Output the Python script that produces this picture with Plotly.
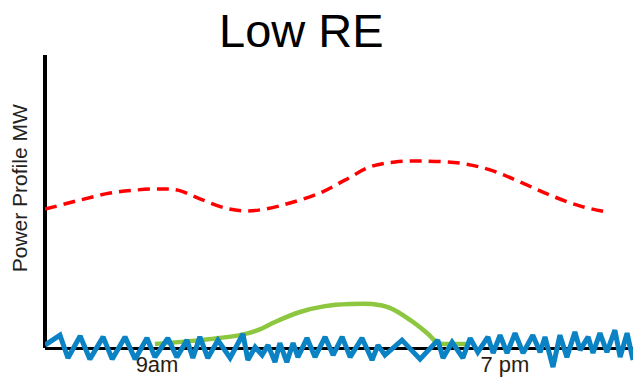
import plotly.graph_objects as go

# Time of day (hours) and power profile values (MW, schematic units)
demand_hours = [5.78, 6.79, 7.65, 8.37, 9.08, 9.60, 10.23, 10.95, 11.53, 12.10, 12.82,
                13.68, 14.40, 15.12, 15.84, 16.70, 17.71, 18.57, 19.43, 20.29, 21.15, 21.93]
demand_mw = [47.4, 50.5, 52.9, 53.9, 54.3, 53.9, 50.9, 47.8, 46.8, 47.4, 49.5,
             52.9, 57.3, 61.8, 63.5, 63.8, 63.1, 60.8, 56.7, 52.2, 48.5, 46.4]

solar_hours = [8.94, 10.23, 11.38, 11.90, 12.39, 13.11, 13.83, 14.54, 15.18, 15.69,
               16.27, 16.79, 17.07, 17.42, 17.93]
solar_mw = [1.4, 2.7, 4.4, 6.1, 8.9, 12.3, 14.3, 15.0, 15.0, 13.7,
            9.6, 4.8, 1.7, 1.4, 1.4]

wind_hours = [5.78, 6.21, 6.44, 6.79, 7.07, 7.45, 7.71, 8.08, 8.37, 8.71, 8.94, 9.31,
              9.57, 9.86, 10.03, 10.23, 10.46, 10.75, 11.10, 11.47, 11.61, 11.82, 12.02,
              12.19, 12.39, 12.53, 12.73, 12.91, 13.05, 13.31, 13.54, 13.83, 14.06, 14.32,
              14.55, 14.89, 15.18, 15.35, 15.55, 16.04, 16.56, 17.07, 17.22, 17.48, 17.79,
              18.00, 18.22, 18.51, 18.66, 18.86, 19.06, 19.29, 19.52, 19.80, 20.01, 20.15,
              20.38, 20.58, 20.78, 21.01, 21.16, 21.39, 21.53, 21.73, 21.93, 22.16, 22.31,
              22.51, 22.68]
wind_mw = [1.0, 4.4, -3.4, 4.1, -3.8, 3.8, -3.8, 3.8, -3.8, 3.4, -3.1, 3.4,
           -3.1, 2.7, -3.4, 3.8, -3.4, 2.7, -3.4, 4.8, -4.1, 0.3, -2.4,
           1.0, -4.8, 1.7, -4.8, 1.7, -3.1, 3.4, -3.1, 3.8, -2.4, 3.8,
           -3.1, 3.4, -4.1, 1.0, -2.4, 2.7, -3.8, 2.7, -3.4, 2.0, -3.4,
           3.4, -1.4, 3.8, -1.7, 4.4, -1.7, 5.1, -1.7, 4.4, -1.4, 3.8,
           -6.5, 4.4, -3.1, 5.5, -0.7, 3.8, -1.7, 5.1, -1.4, 6.1, -3.1,
           5.1, -4.1]

tick_hours = [9, 19]
tick_labels = ["9am", "7 pm"]

fig = go.Figure()
fig.add_trace(go.Scatter(x=demand_hours, y=demand_mw, mode="lines",
                         line=dict(color="#ff0000", width=3.5, dash="12px,7px", shape="spline"),
                         showlegend=False, hoverinfo="skip"))
fig.add_trace(go.Scatter(x=solar_hours, y=solar_mw, mode="lines",
                         line=dict(color="#8dc63f", width=4.5, shape="spline"),
                         showlegend=False, hoverinfo="skip"))
fig.add_trace(go.Scatter(x=wind_hours, y=wind_mw, mode="lines",
                         line=dict(color="#0a82c4", width=5),
                         showlegend=False, hoverinfo="skip"))

fig.add_shape(type="line", xref="paper", yref="y", x0=0, x1=0, y0=0, y1=100,
              line=dict(color="black", width=4), layer="below")

fig.add_annotation(text="Power Profile MW", textangle=-90, xref="paper", yref="paper",
                   x=-0.044, y=0.584, xanchor="center", yanchor="middle", showarrow=False,
                   font=dict(family="Liberation Sans, Arial", size=21, color="#222222"))

fig.update_layout(
    width=633, height=378,
    margin=dict(l=45, r=0, t=55, b=3, autoexpand=False),
    paper_bgcolor="white", plot_bgcolor="white",
    title=dict(text="Low RE", xref="container", yref="container", x=0.476, y=0.92,
               xanchor="center", yanchor="middle",
               font=dict(family="Liberation Sans, Arial", size=47, color="black")),
    xaxis=dict(range=[5.78, 22.68], anchor="free", position=0.0844, automargin=False,
               showline=True, linecolor="black", linewidth=3, layer="below traces",
               showgrid=False, zeroline=False, ticks="", ticklabelstandoff=-4,
               tickvals=tick_hours, ticktext=tick_labels,
               tickfont=dict(family="Liberation Sans, Arial", size=22, color="#2b1d0e")),
    yaxis=dict(range=[-9.2, 100], visible=False, showgrid=False, zeroline=False,
               automargin=False),
)

fig.write_html("out.html", config={"displayModeBar": False},
               post_script="document.body.style.margin='0';document.body.style.overflow='hidden';")
